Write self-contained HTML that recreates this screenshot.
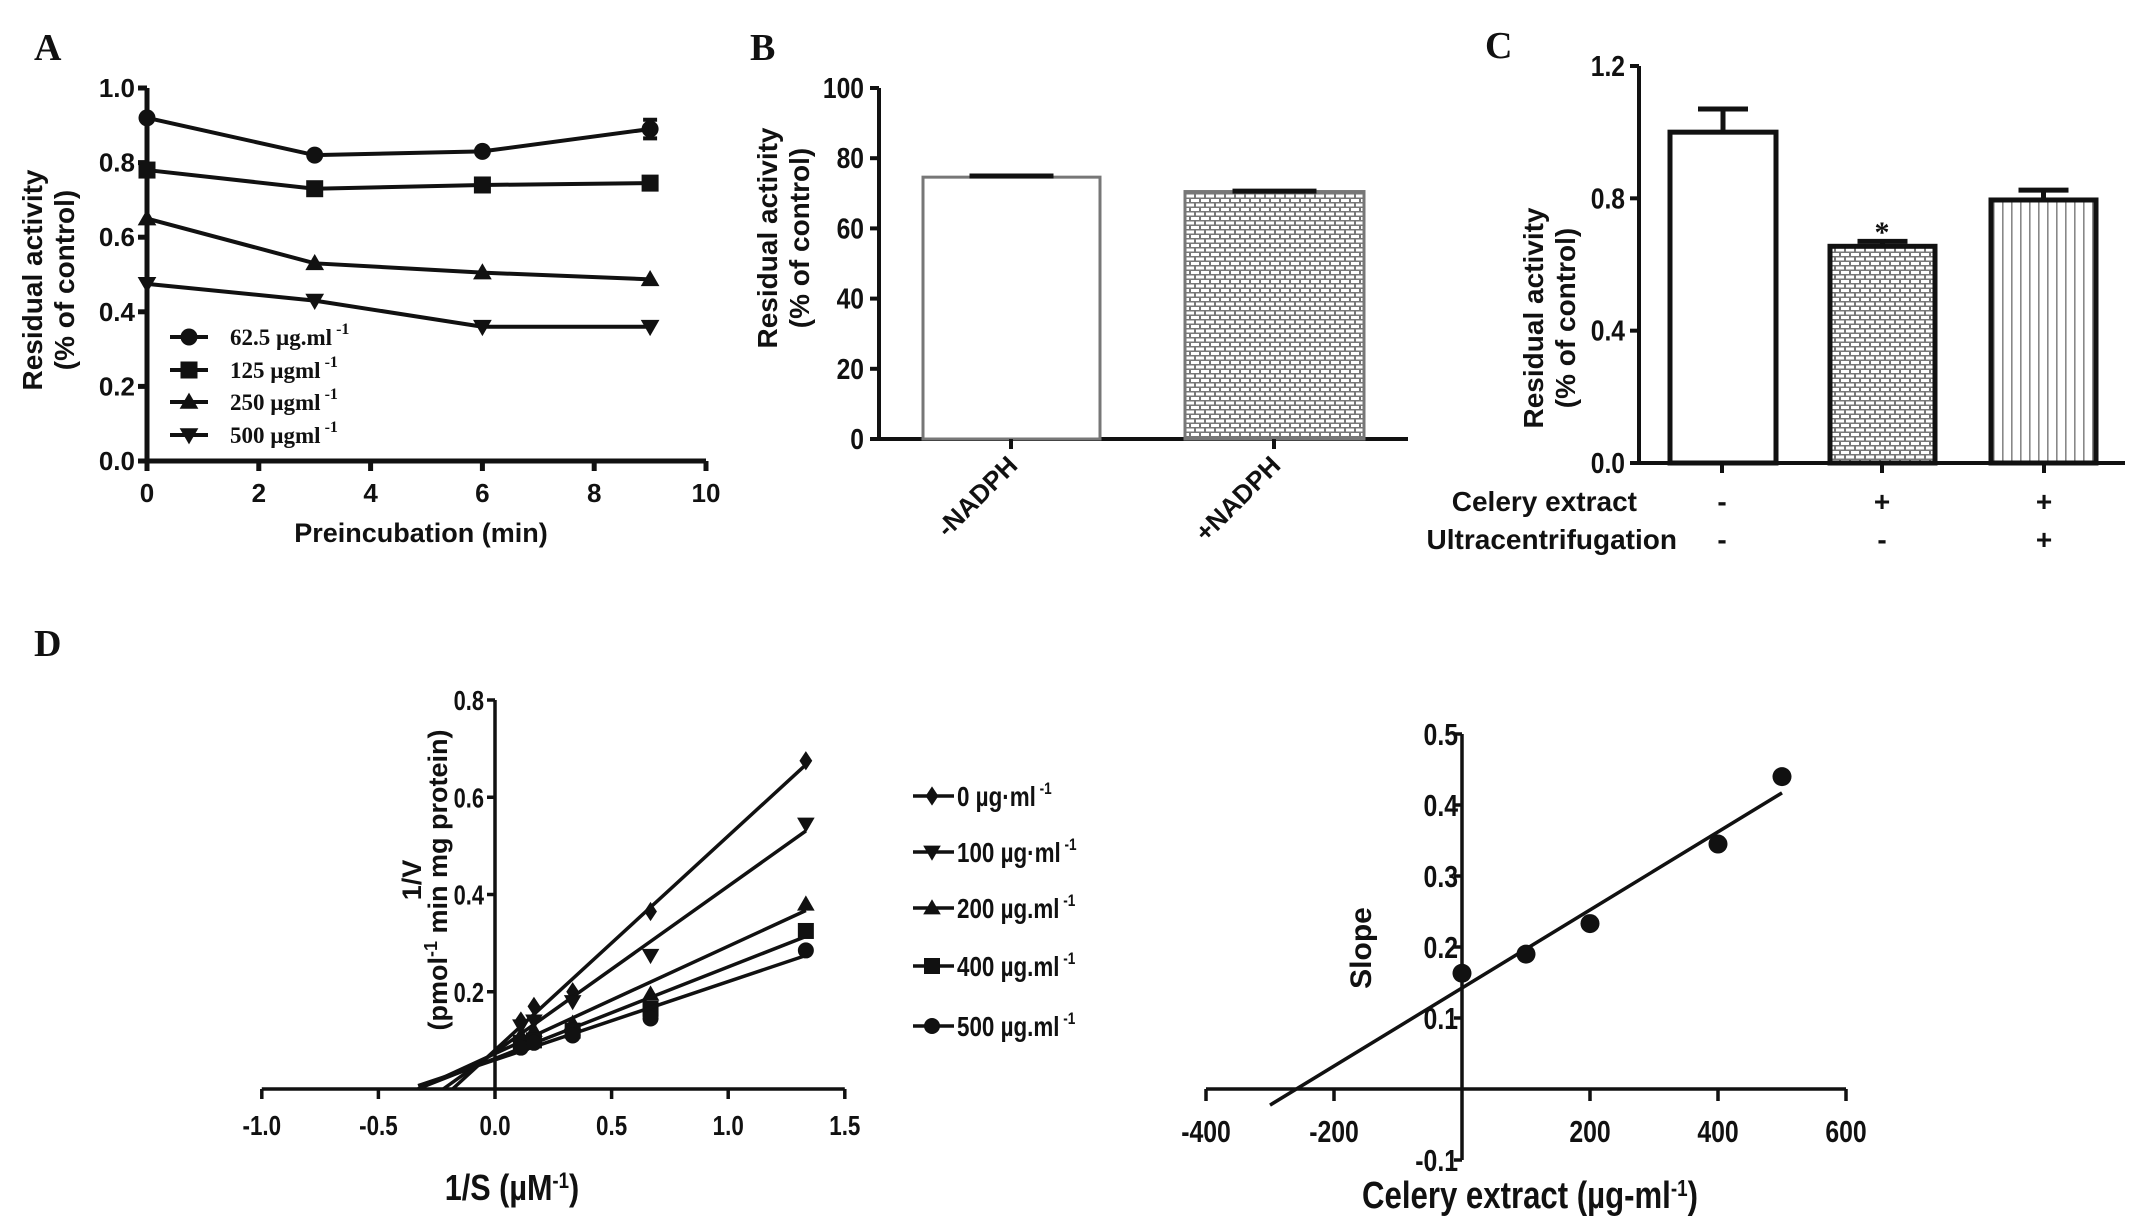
<!DOCTYPE html>
<html><head><meta charset="utf-8">
<style>
html,body{margin:0;padding:0;background:#fff;}
svg{display:block;}
text{font-family:"Liberation Sans",sans-serif;font-weight:bold;fill:#111;}
.serif{font-family:"Liberation Serif",serif;}
</style></head>
<body>
<svg id="fig" width="2150" height="1225" viewBox="0 0 2150 1225" xmlns="http://www.w3.org/2000/svg">
<defs>
<pattern id="brick" width="10" height="9" patternUnits="userSpaceOnUse">
<rect width="10" height="9" fill="#777"/>
<rect x="1" y="1" width="8" height="3" fill="#fff"/>
<rect x="-4" y="5.5" width="8" height="3" fill="#fff"/>
<rect x="6" y="5.5" width="8" height="3" fill="#fff"/>
</pattern>
<pattern id="vlines" width="9" height="10" patternUnits="userSpaceOnUse">
<rect width="9" height="10" fill="#fff"/>
<rect x="4" width="1.6" height="10" fill="#888"/>
</pattern>
</defs>
<g id="root"></g>
</svg>
<script>
// ---------- Panel A data ----------
const aTimes = [0, 3, 6, 9];
const aSeriesNames = ["62.5 µg.ml", "125 µgml", "250 µgml", "500 µgml"];
const aS1 = [0.92, 0.82, 0.83, 0.89];
const aS2 = [0.78, 0.73, 0.74, 0.745];
const aS3 = [0.65, 0.53, 0.505, 0.487];
const aS4 = [0.475, 0.43, 0.36, 0.36];
const aErr4th = [0, 0, 0, 0.025];
const aYTicks = [0, 0.2, 0.4, 0.6, 0.8, 1.0];
const aXTicks = [0, 2, 4, 6, 8, 10];
// ---------- Panel B data ----------
const bCats = ["-NADPH", "+NADPH"];
const bVals = [74.6, 70.5];
const bErr = [0.6, 0.4];
const bYTicks = [0, 20, 40, 60, 80, 100];
// ---------- Panel C data ----------
const cVals = [1.0, 0.655, 0.795];
const cErr = [0.07, 0.015, 0.03];
const cRow1 = ["-", "+", "+"];
const cRow2 = ["-", "-", "+"];
const cYTicks = [0, 0.4, 0.8, 1.2];
// ---------- Panel D (left) data ----------
const dX = [0.111, 0.167, 0.333, 0.667, 1.333];
const d0 = [0.14, 0.17, 0.20, 0.365, 0.675];
const d100 = [0.13, 0.14, 0.18, 0.275, 0.545];
const d200 = [0.11, 0.12, 0.135, 0.195, 0.38];
const d400 = [0.095, 0.10, 0.12, 0.165, 0.325];
const d500 = [0.085, 0.095, 0.11, 0.145, 0.285];
const dLegend = ["0  µg·ml", "100 µg·ml", "200 µg.ml", "400 µg.ml", "500 µg.ml"];
const dXTicks = [-1.0, -0.5, 0.0, 0.5, 1.0, 1.5];
const dYTicks = [0.2, 0.4, 0.6, 0.8];
// ---------- Panel D (right) data ----------
const eX = [0, 100, 200, 400, 500];
const eY = [0.163, 0.19, 0.233, 0.345, 0.44];
const eXTicks = [-400, -200, 200, 400, 600];
const eYTicks = [-0.1, 0.1, 0.2, 0.3, 0.4, 0.5];

const NS = "http://www.w3.org/2000/svg";
const root = document.getElementById("root");
function mk(tag, attrs, parent) {
  const e = document.createElementNS(NS, tag);
  for (const k in attrs) e.setAttribute(k, attrs[k]);
  (parent || root).appendChild(e);
  return e;
}
function txt(str, x, y, size, anchor, parent, cls) {
  const t = mk("text", {x: x, y: y, "font-size": size, "text-anchor": anchor || "middle"}, parent);
  if (cls) t.setAttribute("class", cls);
  t.textContent = str;
  return t;
}
// condensed text (horizontal scale)
function ctxt(str, x, y, size, anchor, parent, sx) {
  const t = mk("text", {x: 0, y: 0, "font-size": size, "text-anchor": anchor || "middle", transform: `translate(${x},${y}) scale(${sx || 0.8},1)`}, parent);
  t.textContent = str;
  return t;
}
function marker(type, cx, cy, r, parent) {
  let e;
  if (type === "circle") e = mk("circle", {cx: cx, cy: cy, r: r, fill: "#111"}, parent);
  else if (type === "square") e = mk("rect", {x: cx - r, y: cy - r, width: 2 * r, height: 2 * r, fill: "#111"}, parent);
  else if (type === "tri") e = mk("polygon", {points: `${cx},${cy - r * 1.1} ${cx - r * 1.1},${cy + r * 0.8} ${cx + r * 1.1},${cy + r * 0.8}`, fill: "#111"}, parent);
  else if (type === "itri") e = mk("polygon", {points: `${cx},${cy + r * 1.1} ${cx - r * 1.1},${cy - r * 0.8} ${cx + r * 1.1},${cy - r * 0.8}`, fill: "#111"}, parent);
  else e = mk("polygon", {points: `${cx},${cy - r * 1.2} ${cx - r * 0.8},${cy} ${cx},${cy + r * 1.2} ${cx + r * 0.8},${cy}`, fill: "#111"}, parent);
  return e;
}
function fit(xs, ys) {
  const n = xs.length; let mx = 0, my = 0;
  for (let i = 0; i < n; i++) { mx += xs[i]; my += ys[i]; }
  mx /= n; my /= n; let sxy = 0, sxx = 0;
  for (let i = 0; i < n; i++) { sxy += (xs[i] - mx) * (ys[i] - my); sxx += (xs[i] - mx) ** 2; }
  const m = sxy / sxx; return {m: m, b: my - m * mx};
}

// ================= Panel A =================
(function () {
  const g = mk("g", {});
  
  
  const X = v => 147 + v * (706 - 147) / 10;
  const Y = v => 461 - v * (461 - 88);
  const lbl = txt("A", 34, 60, 38, "start", g, "serif");
  
  
  const ax = mk("path", {d: `M${X(0)},${Y(1)} V${Y(0)} H${X(10)}`, stroke: "#111", "stroke-width": 5, fill: "none"}, g);
  
  
  aYTicks.forEach(v => {
    mk("line", {x1: X(0) - 9, x2: X(0), y1: Y(v), y2: Y(v), stroke: "#111", "stroke-width": 5}, g);
    const t = txt(v.toFixed(1), X(0) - 12, Y(v) + 9, 26, "end", g);
    
    
  });
  aXTicks.forEach(v => {
    mk("line", {x1: X(v), x2: X(v), y1: Y(0), y2: Y(0) + 10, stroke: "#111", "stroke-width": 5}, g);
    const t = txt(String(v), X(v), 502, 26, "middle", g);
    
    
  });
  const xt = txt("Preincubation (min)", 421, 542, 27, "middle", g);
  
  
  const yt = mk("text", {transform: "translate(42,280) rotate(-90)", "font-size": 28, "text-anchor": "middle"}, g);
  yt.textContent = "Residual activity";
  
  
  const yt2 = mk("text", {transform: "translate(74,280) rotate(-90)", "font-size": 28, "text-anchor": "middle"}, g);
  yt2.textContent = "(% of control)";
  
  
  const series = [aS1, aS2, aS3, aS4];
  const types = ["circle", "square", "tri", "itri"];
  series.forEach((s, si) => {
    const pl = mk("polyline", {points: s.map((v, i) => X(aTimes[i]) + "," + Y(v)).join(" "), stroke: "#111", "stroke-width": 4, fill: "none"}, g);
    
    
    s.forEach((v, i) => {
      const m = marker(types[si], X(aTimes[i]), Y(v), 8.5, g);
      
      
      if (si === 0 && aErr4th[i] > 0) {
        const e = mk("path", {d: `M${X(aTimes[i])},${Y(v + aErr4th[i])} V${Y(v - aErr4th[i])} M${X(aTimes[i]) - 7},${Y(v + aErr4th[i])} h14 M${X(aTimes[i]) - 7},${Y(v - aErr4th[i])} h14`, stroke: "#111", "stroke-width": 4}, g);
        
        
      }
    });
    const ly = [337, 370, 402, 435][si];
    const le = mk("g", {}, g);
    
    
    mk("line", {x1: 170, x2: 208, y1: ly, y2: ly, stroke: "#111", "stroke-width": 4}, le);
    marker(types[si], 189, ly, 8.5, le);
    const t = txt(aSeriesNames[si], 230, ly + 8, 23, "start", le, "serif");
    t.setAttribute("font-weight", "normal");
    const sup = mk("tspan", {dy: -11, "font-size": 16}, t);
    sup.textContent = " -1";
  });
})();

// ================= Panel B =================
(function () {
  const g = mk("g", {});
  
  
  const Y = v => 439 - v * (439 - 88) / 100;
  const lbl = txt("B", 750, 60, 38, "start", g, "serif");
  
  
  const ax = mk("path", {d: `M879,${Y(100)} V${Y(0)} H1408`, stroke: "#111", "stroke-width": 4, fill: "none"}, g);
  
  
  bYTicks.forEach(v => {
    mk("line", {x1: 870, x2: 879, y1: Y(v), y2: Y(v), stroke: "#111", "stroke-width": 4}, g);
    const t = ctxt(String(v), 864, Y(v) + 10, 29, "end", g, 0.85);
    
    
  });
  const yt = mk("text", {transform: "translate(777,238) rotate(-90)", "font-size": 28, "text-anchor": "middle"}, g);
  yt.textContent = "Residual activity";
  
  
  const yt2 = mk("text", {transform: "translate(809,238) rotate(-90)", "font-size": 28, "text-anchor": "middle"}, g);
  yt2.textContent = "(% of control)";
  
  
  const bx = [[923, 1100], [1185, 1364]];
  const ticks = [1011, 1274];
  bCats.forEach((c, i) => {
    const r = mk("rect", {x: bx[i][0], y: Y(bVals[i]), width: bx[i][1] - bx[i][0], height: Y(0) - Y(bVals[i]), fill: i ? "url(#brick)" : "#fff", stroke: "#777", "stroke-width": 3}, g);
    
    
    const cx = (bx[i][0] + bx[i][1]) / 2;
    const e = mk("line", {x1: cx - 42, x2: cx + 42, y1: Y(bVals[i] + bErr[i]) + 1, y2: Y(bVals[i] + bErr[i]) + 1, stroke: "#111", "stroke-width": 5}, g);
    
    
    mk("line", {x1: ticks[i], x2: ticks[i], y1: Y(0), y2: Y(0) + 10, stroke: "#111", "stroke-width": 4}, g);
    const t = mk("text", {transform: `translate(${ticks[i] + 8},${Y(0) + 28}) rotate(-45)`, "font-size": 26, "text-anchor": "end"}, g);
    t.textContent = c;
    
    
  });
})();

// ================= Panel C =================
(function () {
  const g = mk("g", {});
  
  
  const Y = v => 463 - v * (463 - 66) / 1.2;
  const lbl = txt("C", 1485, 58, 38, "start", g, "serif");
  
  
  const ax = mk("path", {d: `M1639,${Y(1.2)} V${Y(0)} H2125`, stroke: "#111", "stroke-width": 4, fill: "none"}, g);
  
  
  cYTicks.forEach(v => {
    mk("line", {x1: 1630, x2: 1639, y1: Y(v), y2: Y(v), stroke: "#111", "stroke-width": 4}, g);
    const t = ctxt(v.toFixed(1), 1625, Y(v) + 10, 29, "end", g, 0.85);
    
    
  });
  const yt = mk("text", {transform: "translate(1543,318) rotate(-90)", "font-size": 28, "text-anchor": "middle"}, g);
  yt.textContent = "Residual activity";
  
  
  const yt2 = mk("text", {transform: "translate(1575,318) rotate(-90)", "font-size": 28, "text-anchor": "middle"}, g);
  yt2.textContent = "(% of control)";
  
  
  const bx = [[1670, 1776], [1830, 1935], [1991, 2096]];
  const ticks = [1722, 1882, 2044];
  const fills = ["#fff", "url(#brick)", "url(#vlines)"];
  cVals.forEach((v, i) => {
    const r = mk("rect", {x: bx[i][0], y: Y(v), width: bx[i][1] - bx[i][0], height: Y(0) - Y(v), fill: fills[i], stroke: "#111", "stroke-width": 5}, g);
    
    
    const cx = (bx[i][0] + bx[i][1]) / 2;
    const e = mk("path", {d: `M${cx},${Y(v)} V${Y(v + cErr[i])} M${cx - 25},${Y(v + cErr[i])} h50`, stroke: "#111", "stroke-width": 5}, g);
    
    
    mk("line", {x1: ticks[i], x2: ticks[i], y1: Y(0), y2: Y(0) + 10, stroke: "#111", "stroke-width": 4}, g);
    const s1 = txt(cRow1[i], ticks[i], 511, 28, "middle", g);
    
    
    const s2 = txt(cRow2[i], ticks[i], 549, 28, "middle", g);
    
    
  });
  const ast = txt("*", 1882, 242, 30, "middle", g, "serif");
  
  
  const r1 = txt("Celery extract", 1637, 511, 28, "end", g);
  
  
  const r2 = txt("Ultracentrifugation", 1677, 549, 28, "end", g);
  
  
})();

// ================= Panel D left =================
(function () {
  const g = mk("g", {});
  
  
  const X = v => 495 + v * 233.2;
  const Y = v => 1089 - v * (1089 - 700) / 0.8;
  const lbl = txt("D", 34, 656, 38, "start", root, "serif");
  
  
  const ax = mk("path", {d: `M${X(0)},${Y(0.8)} V${Y(0)} M${X(-1)},${Y(0)} H${X(1.5)}`, stroke: "#111", "stroke-width": 3.5, fill: "none"}, g);
  
  
  dYTicks.forEach(v => {
    mk("line", {x1: X(0) - 8, x2: X(0), y1: Y(v), y2: Y(v), stroke: "#111", "stroke-width": 3.5}, g);
    const t = ctxt(v.toFixed(1), X(0) - 11, Y(v) + 10, 28, "end", g, 0.78);
    
    
  });
  dXTicks.forEach(v => {
    mk("line", {x1: X(v), x2: X(v), y1: Y(0), y2: Y(0) + 10, stroke: "#111", "stroke-width": 3.5}, g);
    const t = ctxt(v.toFixed(1), X(v), 1135, 28, "middle", g, 0.8);
    
    
  });
  const xt = ctxt("1/S (µM", 512, 1200, 36, "middle", g, 0.85);
  const sup = mk("tspan", {dy: -12, "font-size": 22}, xt); sup.textContent = "-1";
  const cl = mk("tspan", {dy: 12}, xt); cl.textContent = ")";
  
  
  const yt = mk("text", {transform: "translate(421,880) rotate(-90)", "font-size": 27, "text-anchor": "middle"}, g);
  yt.textContent = "1/V";
  
  
  const yt2 = mk("text", {transform: "translate(447,880) rotate(-90)", "font-size": 27, "text-anchor": "middle"}, g);
  yt2.textContent = "(pmol";
  const s2 = mk("tspan", {dy: -10, "font-size": 18}, yt2); s2.textContent = "-1";
  const s3 = mk("tspan", {dy: 10}, yt2); s3.textContent = " min mg protein)";
  
  
  const series = [d0, d100, d200, d400, d500];
  const types = ["diamond", "itri", "tri", "square", "circle"];
  const legY = [796, 852, 908, 966, 1026];
  series.forEach((s, si) => {
    const f = fit(dX, s);
    let x0 = -0.33; if (f.m * x0 + f.b < 0) x0 = -f.b / f.m;
    const ln = mk("line", {x1: X(x0), y1: Y(f.m * x0 + f.b), x2: X(1.333), y2: Y(f.m * 1.333 + f.b), stroke: "#111", "stroke-width": 3.5}, g);
    
    
    s.forEach((v, i) => {
      const m = marker(types[si], X(dX[i]), Y(v), 8, g);
      
      
    });
    const le = mk("g", {}, g);
    
    
    mk("line", {x1: 913, x2: 954, y1: legY[si], y2: legY[si], stroke: "#111", "stroke-width": 3.5}, le);
    marker(types[si], 932, legY[si], 8, le);
    const t = ctxt(dLegend[si], 957, legY[si] + 10, 28, "start", le, 0.8);
    t.setAttribute("font-weight", "normal");
    const sp = mk("tspan", {dy: -12, "font-size": 17}, t); sp.textContent = " -1";
  });
})();

// ================= Panel D right =================
(function () {
  const g = mk("g", {});
  
  
  const X = v => 1462 + v * 0.64;
  const Y = v => 1089 - v * 710;
  const ax = mk("path", {d: `M${X(0)},${Y(0.5)} V${Y(-0.1)} M${X(-400)},${Y(0)} H${X(600)}`, stroke: "#111", "stroke-width": 3.5, fill: "none"}, g);
  
  
  eYTicks.forEach(v => {
    mk("line", {x1: X(0) - 8, x2: X(0), y1: Y(v), y2: Y(v), stroke: "#111", "stroke-width": 3.5}, g);
    const t = ctxt(v.toFixed(1), X(0) - 4, Y(v) + 11, 31, "end", g, 0.8);
    
    
  });
  eXTicks.forEach(v => {
    mk("line", {x1: X(v), x2: X(v), y1: Y(0), y2: Y(0) + 12, stroke: "#111", "stroke-width": 3.5}, g);
    const t = ctxt(String(v), X(v), 1142, 31, "middle", g, 0.8);
    
    
  });
  const yt = mk("text", {transform: "translate(1371,948) rotate(-90)", "font-size": 30, "text-anchor": "middle"}, g);
  yt.textContent = "Slope";
  
  
  const xt = ctxt("Celery extract (µg-ml", 1530, 1208, 38, "middle", g, 0.82);
  const sp = mk("tspan", {dy: -12, "font-size": 23}, xt); sp.textContent = "-1";
  const cl = mk("tspan", {dy: 12}, xt); cl.textContent = ")";
  
  
  const f = fit(eX, eY);
  const ln = mk("line", {x1: X(-300), y1: Y(f.m * -300 + f.b), x2: X(500), y2: Y(f.m * 500 + f.b), stroke: "#111", "stroke-width": 3.5}, g);
  
  
  eX.forEach((x, i) => {
    const c = mk("circle", {cx: X(x), cy: Y(eY[i]), r: 9.5, fill: "#111"}, g);
    
    
  });
})();
</script>
</body></html>
